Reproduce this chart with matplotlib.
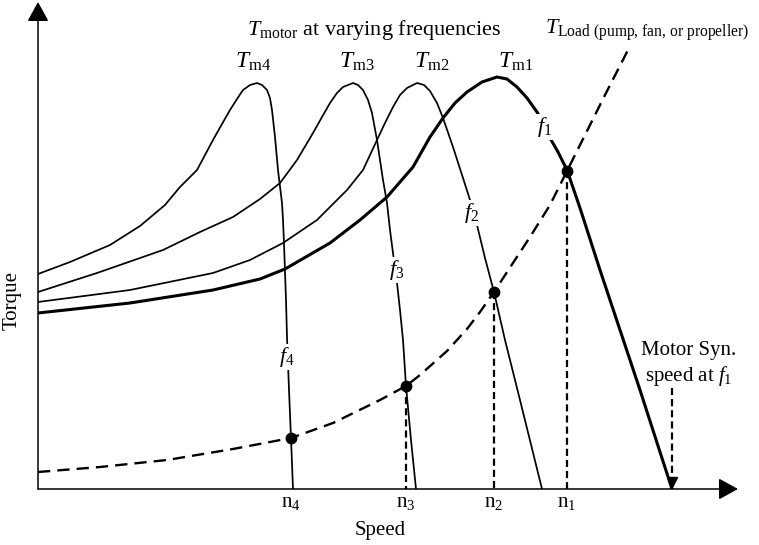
"""Torque-speed curves of a VFD-driven motor against a centrifugal load."""
import matplotlib
matplotlib.use('Agg')
import matplotlib.pyplot as plt

plt.rcParams['font.family'] = ['Liberation Serif', 'DejaVu Serif']
plt.rcParams['mathtext.fontset'] = 'custom'
plt.rcParams['mathtext.rm'] = 'Liberation Serif'
plt.rcParams['mathtext.it'] = 'Liberation Serif:italic'

# Motor torque curves (speed, torque), arbitrary units
TM4_SPEED = [0, 32, 72, 102, 127, 142, 159, 175, 184, 192, 199, 205, 212,
             219, 224, 229, 232, 234, 237, 240, 244, 245, 246, 248, 249,
             251, 253, 255]
TM4_TORQUE = [215, 227, 244, 263, 284, 302, 319, 349, 365, 379, 390, 399,
              404, 406, 404, 399, 391, 379, 352, 319, 286, 269, 246, 189,
              152, 99, 51, 0]

TM3_SPEED = [0, 59, 125, 162, 195, 222, 242, 259, 275, 284, 292, 299, 305,
             315, 320, 325, 330, 334, 339, 345, 349, 352, 355, 359, 362,
             365, 368, 373, 378]
TM3_TORQUE = [197, 216, 239, 257, 272, 290, 306, 329, 356, 372, 386, 396,
              402, 406, 404, 399, 389, 376, 349, 309, 286, 259, 236, 206,
              179, 149, 103, 49, 0]

TM2_SPEED = [0, 92, 175, 212, 245, 279, 309, 325, 339, 347, 355, 362, 369,
             379, 386, 392, 399, 405, 415, 425, 432, 439, 447, 456, 467,
             482, 504]
TM2_TORQUE = [187, 199, 216, 229, 246, 269, 299, 319, 349, 366, 382, 394,
              401, 406, 404, 398, 386, 371, 342, 311, 289, 264, 231, 197,
              149, 89, 0]

TM1_SPEED = [0, 92, 175, 222, 247, 292, 322, 349, 375, 392, 405, 417, 429,
             444, 459, 469, 479, 489, 499, 506, 512, 520, 529, 542, 562,
             582, 602, 622, 634]
TM1_TORQUE = [176, 186, 199, 210, 220, 246, 269, 292, 322, 352, 371, 386,
              397, 407, 412, 410, 402, 391, 377, 365, 351, 337, 319, 281,
              219, 159, 99, 37, 0]

# Load torque (pump, fan, propeller)
LOAD_SPEED = [0, 62, 129, 195, 253, 295, 342, 368, 382, 409, 429, 442, 456,
              492, 512, 529, 547, 567, 590]
LOAD_TORQUE = [17, 22, 29, 40, 51, 66, 89, 103, 114, 138, 160, 177, 197,
               252, 284, 318, 354, 394, 439]

# Operating points n4..n1
OP_SPEED = [253, 368, 456, 529]
OP_TORQUE = [51, 103, 197, 318]
OP_LABELS = [r'$\mathrm{n}_4$', r'$\mathrm{n}_3$', r'$\mathrm{n}_2$',
             r'$\mathrm{n}_1$']

SYNC_SPEED = 634

CURVE_LABELS = [r'$T_{\mathrm{m4}}$', r'$T_{\mathrm{m3}}$',
                r'$T_{\mathrm{m2}}$', r'$T_{\mathrm{m1}}$']
FREQ_LABELS = [r'$f_4$', r'$f_3$', r'$f_2$', r'$f_1$']


def main():
    fig = plt.figure(figsize=(7.59, 5.45), dpi=100)
    ax = fig.add_axes([38 / 759, 56 / 545, 721 / 759, 489 / 545])
    ax.set_xlim(0, 721)
    ax.set_ylim(0, 489)
    ax.axis('off')

    # Axes as arrows
    arrow = dict(arrowstyle='-|>,head_length=1.0,head_width=0.55',
                 mutation_scale=12, lw=1.1, color='black',
                 shrinkA=0, shrinkB=0)
    ax.annotate('', xy=(0, 487), xytext=(0, 0), arrowprops=arrow,
                annotation_clip=False)
    ax.annotate('', xy=(700, 0), xytext=(0, 0), arrowprops=arrow,
                annotation_clip=False)

    # Motor curves
    thin = dict(color='black', lw=1.25, solid_joinstyle='round')
    ax.plot(TM4_SPEED, TM4_TORQUE, **thin)
    ax.plot(TM3_SPEED, TM3_TORQUE, **thin)
    ax.plot(TM2_SPEED, TM2_TORQUE, **thin)
    ax.plot(TM1_SPEED, TM1_TORQUE, color='black', lw=2.2,
            solid_joinstyle='round')

    # Load curve
    ax.plot(LOAD_SPEED, LOAD_TORQUE, color='black', lw=1.7,
            linestyle=(0, (5.2, 3.0)), clip_on=False)

    # Drop lines from operating points
    for s, t in zip(OP_SPEED[1:], OP_TORQUE[1:]):
        ax.plot([s, s], [t, 0], color='black', lw=1.6,
                linestyle=(0, (3.2, 1.8)))
    ax.plot(OP_SPEED, OP_TORQUE, 'o', color='black', markersize=7.5)

    # Synchronous speed arrow
    ax.plot([SYNC_SPEED, SYNC_SPEED], [101, 10], color='black', lw=1.6,
            linestyle=(0, (3.2, 1.8)))
    ax.plot([SYNC_SPEED], [7], 'v', color='black', markersize=7)

    # Labels
    fs = 15
    for s, lab in zip(OP_SPEED, OP_LABELS):
        ax.text(s, -14, lab, ha='center', va='center', fontsize=fs,
                clip_on=False)

    peak_speed = [215, 319, 394, 478]
    for s, lab in zip(peak_speed, CURVE_LABELS):
        ax.text(s, 427, lab, ha='center', va='center', fontsize=17)

    freq_pos = [(249, 132), (359, 219), (434, 276), (507, 362)]
    for (s, t), lab in zip(freq_pos, FREQ_LABELS):
        ax.text(s, t, lab, ha='center', va='center', fontsize=16,
                bbox=dict(facecolor='white', edgecolor='none', pad=1.0))

    ax.text(336, 459, r'$T_{\mathrm{motor}}$ at varying frequencies',
            ha='center', va='center', fontsize=16)
    ax.text(507, 459, r'$T_{\text{Load (pump, fan, or propeller)}}$',
            ha='left', va='center', fontsize=16, clip_on=False)
    ax.text(651, 139, 'Motor Syn.', ha='center', va='center', fontsize=fs,
            clip_on=False)
    ax.text(651, 113, r'speed at $f_1$', ha='center', va='center',
            fontsize=fs, clip_on=False)

    ax.text(342, -41, 'Speed', ha='center', va='center', fontsize=fs,
            clip_on=False)
    ax.text(-26, 189, 'Torque', ha='center', va='center', fontsize=fs,
            rotation=90, clip_on=False)

    fig.savefig('out.png', dpi=100)


if __name__ == '__main__':
    main()
